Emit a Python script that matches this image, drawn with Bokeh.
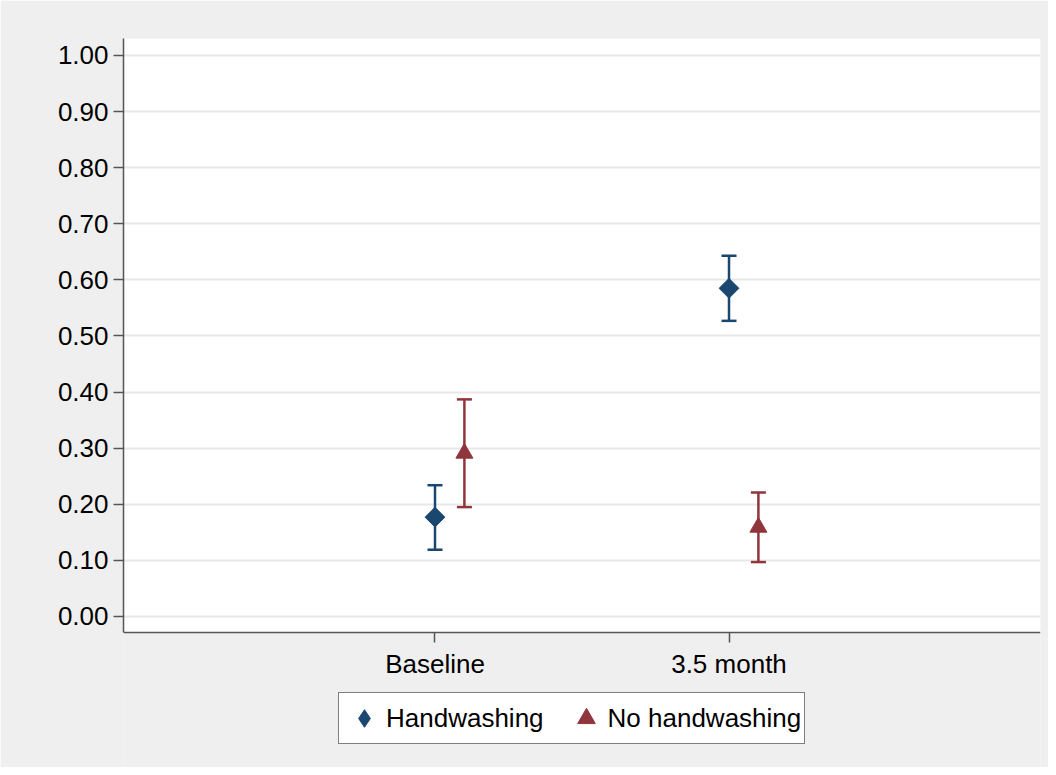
import math
from bokeh.plotting import figure
from bokeh.models import (ColumnDataSource, Whisker, TeeHead, Legend, LegendItem,
                          FixedTicker, NumeralTickFormatter, Range1d, BoxAnnotation)
from bokeh.embed import file_html
from bokeh.resources import INLINE

# ---- data ----
categories = ["Baseline", "3.5 month"]
hw_mean = [0.177, 0.585]
hw_lower = [0.119, 0.527]
hw_upper = [0.234, 0.643]
nohw_mean = [0.291, 0.159]
nohw_lower = [0.195, 0.097]
nohw_upper = [0.387, 0.221]
y_ticks = [0.0, 0.1, 0.2, 0.3, 0.4, 0.5, 0.6, 0.7, 0.8, 0.9, 1.0]

x_pos = [1, 2]
offset = 0.1
y_floor = -0.0285   # lower end of the plot region (where the x axis sits)
y_top = 1.0303

NAVY = "#1a476f"
MAROON = "#90353b"
FONT = "Liberation Sans"
GRAY = "#efefef"

hw_src = ColumnDataSource(dict(x=x_pos, y=hw_mean, lo=hw_lower, hi=hw_upper))
nohw_src = ColumnDataSource(dict(x=[v + offset for v in x_pos], y=nohw_mean,
                                 lo=nohw_lower, hi=nohw_upper))

p = figure(frame_width=917, frame_height=729, output_backend="svg",
           toolbar_location=None,
           x_range=Range1d(-0.0595, 3.0595), y_range=Range1d(-0.2692, y_top),
           min_border_left=123, min_border_right=8, min_border_top=38,
           min_border_bottom=0)
p.border_fill_color = GRAY
p.background_fill_color = GRAY
p.outline_line_color = None

# white plot region
p.add_layout(BoxAnnotation(bottom=y_floor, fill_color="white", fill_alpha=1,
                           line_color=None, level="image"))

# grid
p.xgrid.grid_line_color = None
p.ygrid.ticker = FixedTicker(ticks=y_ticks)
p.ygrid.grid_line_color = "#e8e8e8"
p.ygrid.grid_line_width = 2

# axes
for ax in (p.xaxis[0], p.yaxis[0]):
    ax.axis_line_color = "#555555"
    ax.axis_line_width = 1.5
    ax.major_tick_line_color = "#555555"
    ax.major_tick_line_width = 1.5
    ax.major_tick_out = 10
    ax.major_tick_in = 0
    ax.minor_tick_line_color = None
    ax.major_label_text_font = FONT
    ax.major_label_text_font_size = "26px"
    ax.major_label_text_color = "black"

p.yaxis.ticker = FixedTicker(ticks=y_ticks)
p.yaxis.formatter = NumeralTickFormatter(format="0.00")
p.yaxis.major_label_standoff = 5
p.yaxis.bounds = (y_floor, y_top)
p.xaxis.ticker = FixedTicker(ticks=x_pos)
p.xaxis.major_label_overrides = {x: c for x, c in zip(x_pos, categories)}
p.xaxis.major_label_standoff = 7
p.xaxis.fixed_location = y_floor

# error bars
for src, col in ((hw_src, NAVY), (nohw_src, MAROON)):
    w = Whisker(source=src, base="x", upper="hi", lower="lo", dimension="height",
                line_color=col, line_width=2.5,
                upper_head=TeeHead(size=15, line_color=col, line_width=2.5),
                lower_head=TeeHead(size=15, line_color=col, line_width=2.5))
    p.add_layout(w)

# points
r_hw = p.scatter("x", "y", source=hw_src, marker="square", angle=math.pi / 4,
                 size=14, fill_color=NAVY, line_color=NAVY)
r_nohw = p.scatter("x", "y", source=nohw_src, marker="triangle", size=17,
                   fill_color=MAROON, line_color=MAROON)
# legend-only glyph for the diamond
r_hw_leg = p.scatter("x", "y", source=hw_src, marker="diamond", size=14,
                     fill_color=NAVY, line_color=NAVY, visible=False)

legend = Legend(items=[LegendItem(label="Handwashing", renderers=[r_hw_leg]),
                       LegendItem(label="No handwashing", renderers=[r_nohw])],
                orientation="horizontal", location=(215, 23))
legend.label_text_font = FONT
legend.label_text_font_size = "26px"
legend.label_text_color = "black"
legend.glyph_width = 44
legend.glyph_height = 44
legend.padding = 3
legend.label_standoff = 0
legend.spacing = 20
legend.margin = 0
legend.border_line_color = "black"
legend.border_line_width = 1
legend.background_fill_color = "white"
legend.background_fill_alpha = 1
p.add_layout(legend, "center")

open("out.html", "w").write(file_html(p, INLINE))
